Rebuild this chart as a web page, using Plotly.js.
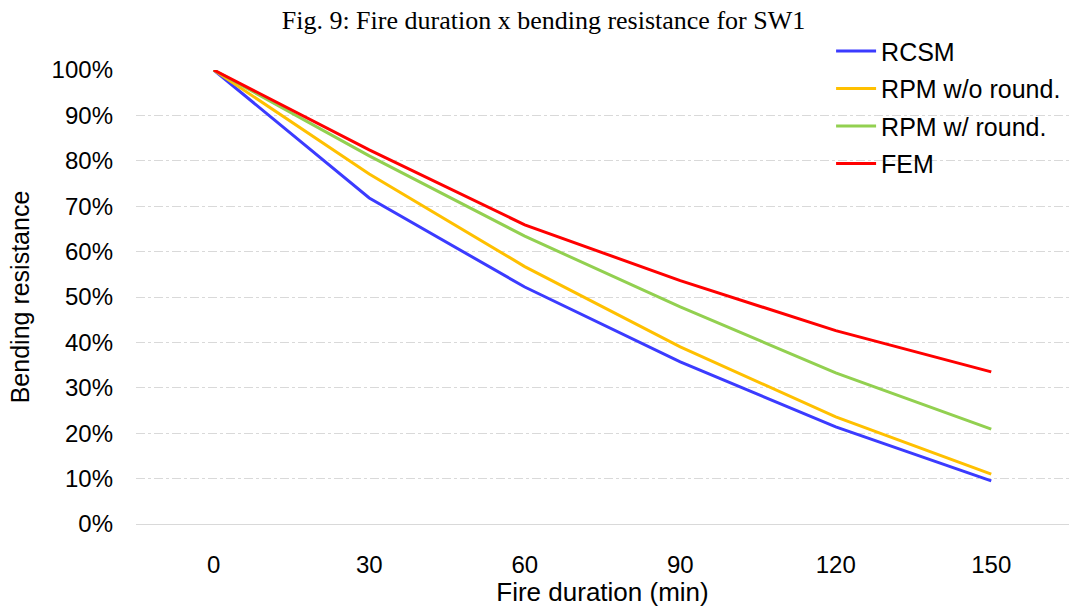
<!DOCTYPE html>
<html>
<head>
<meta charset="utf-8">
<script src="https://cdn.plot.ly/plotly-3.0.1.min.js"></script>
<style>html,body{margin:0;padding:0;background:#fff;}#chart{width:1073px;height:607px;}</style>
</head>
<body>
<div id="chart"></div>
<script>
const durations = ['0', '30', '60', '90', '120', '150'];
const rcsm = [1.00, 0.718, 0.522, 0.357, 0.214, 0.095];
const rpmWithout = [1.00, 0.771, 0.567, 0.390, 0.236, 0.110];
const rpmWith = [1.00, 0.811, 0.634, 0.478, 0.333, 0.209];
const fem = [1.00, 0.824, 0.659, 0.536, 0.426, 0.335];
const seriesNames = ['RCSM', 'RPM w/o round.', 'RPM w/ round.', 'FEM'];
const seriesColors = ['#3B3BFF', '#FFC000', '#92D050', '#FF0000'];
const seriesValues = [rcsm, rpmWithout, rpmWith, fem];
const yTickVals = [0, 0.1, 0.2, 0.3, 0.4, 0.5, 0.6, 0.7, 0.8, 0.9, 1.0];

const traces = seriesValues.map((vals, i) => ({
  x: durations, y: vals, type: 'scatter', mode: 'lines',
  name: seriesNames[i], legendgroup: 'g' + i,
  line: {color: seriesColors[i], width: 3}
}));

const layout = {
  width: 1073, height: 607,
  margin: {l: 136, r: 4, t: 70, b: 83},
  paper_bgcolor: '#fff', plot_bgcolor: '#fff',
  font: {family: 'Liberation Sans, Arial, sans-serif', color: '#000'},
  title: {text: 'Fig. 9: Fire duration x bending resistance for SW1',
          font: {family: 'Liberation Serif, Times New Roman, serif', size: 26, color: '#000'},
          x: 0.5065, xanchor: 'center', y: 0.967, yanchor: 'middle'},
  xaxis: {type: 'category', range: [-0.5, 5.5], showgrid: false, zeroline: false,
          showline: true, linecolor: '#D9D9D9', linewidth: 1, ticks: '',
          tickfont: {size: 24}, ticklabelstandoff: 19,
          title: {text: 'Fire duration (min)', font: {size: 26}, standoff: 10}},
  yaxis: {range: [0, 1.0], tickvals: yTickVals, tickformat: '.0%',
          showgrid: true, gridcolor: '#D9D9D9', griddash: 'dashdot', gridwidth: 1,
          zeroline: false, showline: false, ticks: '',
          tickfont: {size: 24}, ticklabelstandoff: 22,
          title: {text: 'Bending resistance', font: {size: 25}, standoff: 14}},
  legend: {x: 0.745, y: 1.092, xanchor: 'left', yanchor: 'top', bgcolor: 'rgba(0,0,0,0)',
           font: {size: 25}, tracegroupgap: 2, itemwidth: 40},
  showlegend: true
};

Plotly.newPlot('chart', traces, layout, {displayModeBar: false});
</script>
</body>
</html>
